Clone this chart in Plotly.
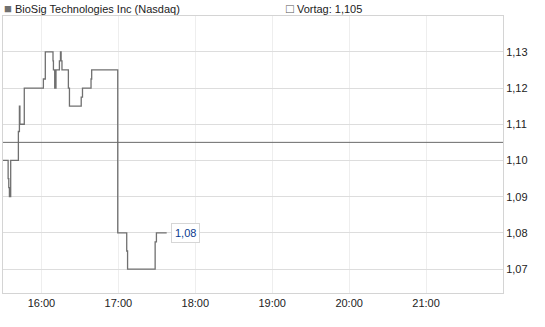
import plotly.graph_objects as go

# --- data ---
times = [
    "2024-01-01 15:30:00", "2024-01-01 15:34:00", "2024-01-01 15:34:30", "2024-01-01 15:35:00",
    "2024-01-01 15:36:00", "2024-01-01 15:42:00", "2024-01-01 15:42:48", "2024-01-01 15:43:12",
    "2024-01-01 15:46:36", "2024-01-01 16:01:30", "2024-01-01 16:03:00", "2024-01-01 16:09:00",
    "2024-01-01 16:09:20", "2024-01-01 16:10:20", "2024-01-01 16:11:20", "2024-01-01 16:14:00",
    "2024-01-01 16:14:50", "2024-01-01 16:15:20", "2024-01-01 16:16:00", "2024-01-01 16:21:00",
    "2024-01-01 16:21:50", "2024-01-01 16:31:00", "2024-01-01 16:32:00", "2024-01-01 16:38:40",
    "2024-01-01 16:39:10", "2024-01-01 16:59:30", "2024-01-01 17:06:30", "2024-01-01 17:07:10",
    "2024-01-01 17:28:40", "2024-01-01 17:29:40", "2024-01-01 17:37:40",
]
prices = [
    1.100, 1.095, 1.0925, 1.090,
    1.100, 1.108, 1.115, 1.110,
    1.120, 1.1225, 1.130, 1.1275,
    1.125, 1.120, 1.125, 1.1275,
    1.130, 1.1275, 1.125, 1.120,
    1.115, 1.1175, 1.120, 1.1225,
    1.125, 1.080, 1.075, 1.070,
    1.0775, 1.080, 1.080,
]
previous_close = 1.105
last_price = 1.08
series_name = "BioSig Technologies Inc (Nasdaq)"

x_tickvals = ["2024-01-01 16:00", "2024-01-01 17:00", "2024-01-01 18:00",
              "2024-01-01 19:00", "2024-01-01 20:00", "2024-01-01 21:00"]
x_ticktext = ["16:00", "17:00", "18:00", "19:00", "20:00", "21:00"]
y_tickvals = [1.07, 1.08, 1.09, 1.10, 1.11, 1.12, 1.13]
y_ticktext = ["1,07", "1,08", "1,09", "1,10", "1,11", "1,12", "1,13"]

x_range = ["2024-01-01 15:30", "2024-01-01 22:00"]
y_range = [1.0634, 1.1399]

FONT = "Liberation Sans, Arial, sans-serif"

def fmt(v, d):
    return f"{v:.{d}f}".replace(".", ",")

fig = go.Figure()

fig.add_trace(go.Scatter(
    x=times, y=prices, mode="lines", line_shape="hv",
    line=dict(color="#707070", width=1.3), showlegend=False, hoverinfo="skip",
))

# previous close reference line
fig.add_trace(go.Scatter(
    x=x_range, y=[previous_close, previous_close], mode="lines",
    line=dict(color="#6a6a6a", width=1), showlegend=False, hoverinfo="skip",
))

# last value label
fig.add_annotation(
    x=times[-1], y=prices[-1], xref="x", yref="y",
    text=fmt(last_price, 2), showarrow=False, xanchor="left", yanchor="middle",
    xshift=4, font=dict(family=FONT, size=11, color="#0b3b8f"),
    bgcolor="#ffffff", bordercolor="#d6d6d6", borderwidth=1, borderpad=3,
)

# header legend
fig.add_annotation(
    x=0, y=1, xref="paper", yref="paper", xanchor="left", yanchor="middle",
    xshift=-1, yshift=8,
    text=f"<span style='color:#707070;font-size:13px'>■</span> {series_name}",
    showarrow=False, font=dict(family=FONT, size=11, color="#222222"),
)
fig.add_annotation(
    x=0, y=1, xref="paper", yref="paper", xanchor="left", yanchor="middle",
    xshift=281, yshift=8,
    text=f"<span style='color:#555555;font-size:13px'>□</span> Vortag: {fmt(previous_close, 3)}",
    showarrow=False, font=dict(family=FONT, size=11, color="#222222"),
)

fig.update_layout(
    width=545, height=327,
    margin=dict(l=3, r=42, t=16, b=34),
    paper_bgcolor="#ffffff", plot_bgcolor="#ffffff",
    font=dict(family=FONT, size=11, color="#333333"),
    xaxis=dict(
        type="date", range=x_range, tickvals=x_tickvals, ticktext=x_ticktext,
        showgrid=True, gridcolor="#eeeeee", gridwidth=1,
        showline=True, linecolor="#d4d4d4", linewidth=1, mirror=True,
        ticks="", zeroline=False, tickfont=dict(size=11, color="#222222"),
    ),
    yaxis=dict(
        range=y_range, tickvals=y_tickvals, ticktext=y_ticktext, side="right",
        showgrid=True, gridcolor="#dddddd", gridwidth=1,
        showline=True, linecolor="#d4d4d4", linewidth=1, mirror=True,
        ticks="", zeroline=False, tickfont=dict(size=11, color="#222222"),
    ),
)

fig.write_html("out.html")
